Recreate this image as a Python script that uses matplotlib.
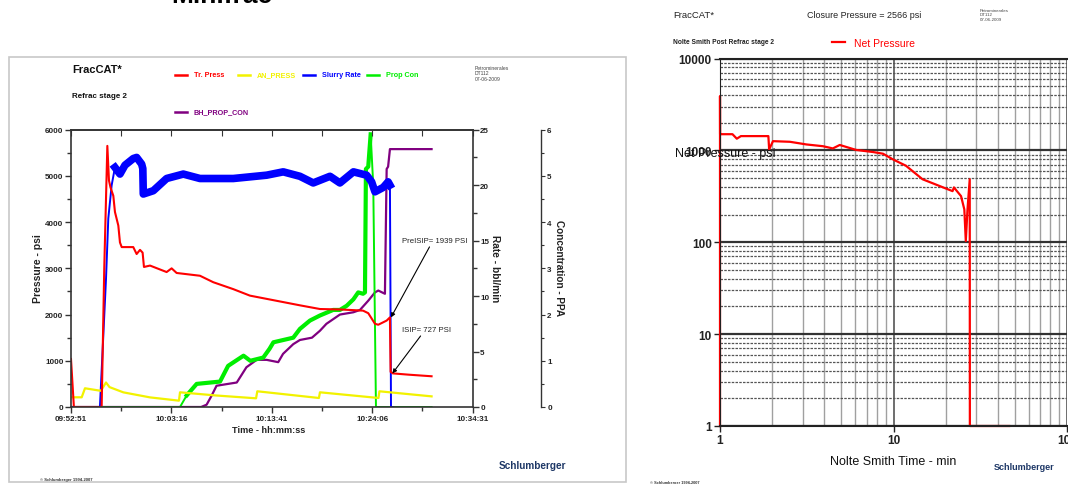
import matplotlib
matplotlib.use("Agg")
import matplotlib.pyplot as plt
from matplotlib.ticker import FixedLocator, NullFormatter, LogLocator, FuncFormatter
from matplotlib.patches import Rectangle

W, H = 1068, 485
plt.rcParams['font.family'] = ['Liberation Sans', 'DejaVu Sans']

# ---------------- treatment plot data (minutes after 09:52:51) ----------------
time_labels = ["09:52:51", "10:03:16", "10:13:41", "10:24:06", "10:34:31"]
time_ticks = [0.0, 10.4167, 20.8333, 31.25, 41.6667]

pre_isip = 1939
isip = 727

tr_t = [0.0, 0.30, 3.18, 3.45, 3.77, 3.94, 4.10, 4.39, 4.56, 4.91, 5.08, 5.26, 6.46,
        6.81, 7.16, 7.43, 7.57, 8.20, 9.92, 10.44, 10.96, 13.38, 14.76, 16.84, 18.56,
        20.29, 22.02, 23.75, 25.83, 28.0, 30.3, 30.84, 31.54, 31.88, 32.75, 33.09,
        33.16, 33.4, 35.0, 37.41]
tr_p = [1040, 0, 0, 3000, 5650, 4900, 4750, 4570, 4220, 3925, 3560, 3460, 3460,
        3310, 3400, 3340, 3030, 3060, 2920, 3000, 2900, 2840, 2700, 2550, 2410,
        2340, 2270, 2200, 2120, 2110, 2085, 2030, 1800, 1780, 1870, pre_isip,
        760, isip, 700, 665]

an_t = [0.0, 1.11, 1.45, 3.10, 3.63, 4.0, 5.43, 8.2, 11.2, 11.31, 15.0, 19.2, 19.33,
        25.72, 25.83, 31.9, 32.0, 37.41]
an_p = [210, 210, 405, 350, 530, 430, 317, 208, 137, 318, 250, 188, 340,
        195, 318, 195, 340, 230]

sr_t = [0.0, 3.0, 3.63, 3.87, 4.22, 4.56, 5.08, 5.6, 6.46, 6.81, 7.33, 7.45, 7.5,
        8.54, 9.92, 11.65, 13.38, 16.84, 20.3, 22.02, 23.75, 25.13, 26.87, 27.9,
        29.3, 30.67, 31.19, 31.54, 32.4, 32.9, 33.09, 33.2, 33.4]
sr_r = [0, 0, 11.5, 17, 20, 21.6, 21.0, 21.8, 22.4, 22.5, 21.9, 21.5, 19.2,
        19.5, 20.6, 21.0, 20.6, 20.6, 20.9, 21.2, 20.8, 20.2, 20.8, 20.2,
        21.2, 20.9, 20.3, 19.4, 19.8, 20.3, 20.0, 0, 0]

pc_t = [0.0, 11.31, 12.0, 13.04, 15.46, 16.3, 17.9, 18.6, 19.95, 20.6, 21.0, 23.06,
        23.75, 24.79, 25.83, 27.2, 27.9, 28.6, 29.3, 29.8, 30.3, 30.5, 30.6, 30.84,
        31.09, 31.36, 31.64, 37.41]
pc_c = [0, 0, 0.25, 0.5, 0.55, 0.89, 1.11, 1.0, 1.07, 1.26, 1.40, 1.5,
        1.69, 1.87, 1.98, 2.1, 2.1, 2.19, 2.33, 2.48, 2.45, 2.48, 5.15, 5.2,
        5.9, 4.8, 0, 0]

bh_t = [0.0, 13.5, 14.07, 14.6, 15.1, 17.2, 18.2, 19.26, 20.3, 21.5, 22.0, 23.06,
        23.75, 25.0, 25.83, 26.5, 27.9, 29.3, 29.98, 30.84, 31.54, 31.88, 32.57,
        32.75, 32.9, 33.09, 37.41]
bh_c = [0, 0, 0.05, 0.25, 0.46, 0.53, 0.86, 1.02, 1.02, 0.97, 1.15, 1.36,
        1.45, 1.5, 1.65, 1.8, 2.0, 2.05, 2.1, 2.3, 2.48, 2.52, 2.45,
        5.15, 5.2, 5.58, 5.58]

# ---------------- Nolte-Smith data ----------------
closure_pressure = 2566
ns_t = [1.0, 1.0, 1.001, 1.18, 1.25, 1.32, 1.42, 1.90, 1.92, 2.02, 2.53, 3.15, 3.92,
        4.47, 4.90, 6.1, 7.6, 8.7, 9.9, 11.8, 14.7, 18.4, 21.9, 22.3, 24.5, 25.6,
        26.1, 26.7, 27.5, 27.55, 46.4]
ns_p = [1, 3900, 1500, 1500, 1340, 1430, 1430, 1430, 1024, 1260, 1240, 1160, 1110,
        1050, 1145, 1010, 960, 920, 800, 680, 485, 410, 360, 395, 318, 228,
        103, 228, 485, 1, 1]

RED, YEL, BLU, GRN, PUR = '#ff0000', '#f2f200', '#0000ff', '#00ee00', '#800080'
INK = '#222222'


def rect(x0, y0, x1, y1):
    return [x0 / W, 1 - y1 / H, (x1 - x0) / W, (y1 - y0) / H]


fig = plt.figure(figsize=(W / 100, H / 100), dpi=100)
fig.patch.set_facecolor('white')

# ---------------- left: treatment plot ----------------
ax_conc = fig.add_axes(rect(71, 130.7, 472.6, 408), zorder=1)
ax_rate = fig.add_axes(rect(71, 130.7, 472.6, 408), zorder=2, sharex=ax_conc)
ax = fig.add_axes(rect(71, 130.7, 472.6, 408), zorder=3, sharex=ax_conc)
for a in (ax_rate, ax):
    a.patch.set_visible(False)

ax.set_xlim(0, time_ticks[-1])
ax.set_ylim(0, 6000)
ax_rate.set_ylim(0, 25)
ax_conc.set_ylim(0, 6)

ax_conc.plot(bh_t, bh_c, color=PUR, lw=1.6)
ax_conc.plot(pc_t, pc_c, color=GRN, lw=1.4)
ax_conc.plot(pc_t[2:25], pc_c[2:25], color=GRN, lw=3.0)
ax_rate.plot(sr_t, sr_r, color=BLU, lw=1.4)
ax_rate.plot(sr_t[5:-2], sr_r[5:-2], color=BLU, lw=5.5)
ax.plot(an_t, an_p, color=YEL, lw=1.6)
ax.plot(tr_t, tr_p, color=RED, lw=1.5)

SP = '#333333'
TICK_FS = 5.8
# pressure axis (left) and time axis
for s in ('top', 'bottom', 'left', 'right'):
    ax.spines[s].set_color(SP)
    ax.spines[s].set_linewidth(1.2)
ax.spines['right'].set_visible(False)
ax.xaxis.set_major_locator(FixedLocator(time_ticks))
mid_ticks = [(a + b) / 2 for a, b in zip(time_ticks[:-1], time_ticks[1:])]
ax.xaxis.set_minor_locator(FixedLocator(mid_ticks))
ax.set_xticklabels(time_labels)
ax.yaxis.set_major_locator(FixedLocator(range(0, 6001, 1000)))
ax.yaxis.set_minor_locator(FixedLocator(range(500, 6000, 1000)))
ax.tick_params(axis='both', which='both', direction='out', colors=SP, labelsize=TICK_FS, width=1)
ax.tick_params(axis='both', which='major', length=4, pad=1.5)
ax.tick_params(axis='both', which='minor', length=3)
for lab in ax.get_xticklabels() + ax.get_yticklabels():
    lab.set_fontweight('bold')
    lab.set_color(INK)
top = ax.secondary_xaxis('top')
top.set_xticks(time_ticks + mid_ticks)
top.tick_params(direction='in', length=4, labeltop=False, colors=SP)
top.spines['top'].set_color(SP)
top.spines['top'].set_linewidth(1.2)

# rate axis
for s in ('top', 'bottom', 'left'):
    ax_rate.spines[s].set_visible(False)
ax_rate.spines['right'].set_color(SP)
ax_rate.spines['right'].set_linewidth(1.2)
ax_rate.yaxis.tick_right()
ax_rate.yaxis.set_major_locator(FixedLocator(range(0, 26, 5)))
ax_rate.yaxis.set_minor_locator(FixedLocator([2.5, 7.5, 12.5, 17.5, 22.5]))
ax_rate.tick_params(axis='y', which='both', direction='out', colors=SP, labelsize=TICK_FS, width=1)
ax_rate.tick_params(axis='y', which='major', length=4, pad=1.5)
ax_rate.tick_params(axis='y', which='minor', length=3)
ax_rate.tick_params(axis='x', which='both', bottom=False, labelbottom=False)
for lab in ax_rate.get_yticklabels():
    lab.set_fontweight('bold')
    lab.set_color(INK)

# concentration axis
for s in ('top', 'bottom', 'left'):
    ax_conc.spines[s].set_visible(False)
ax_conc.spines['right'].set_position(('axes', (541 - 71) / (472.6 - 71)))
ax_conc.spines['right'].set_color(SP)
ax_conc.spines['right'].set_linewidth(1.0)
ax_conc.yaxis.tick_right()
ax_conc.yaxis.set_major_locator(FixedLocator(range(0, 7)))
ax_conc.yaxis.set_minor_locator(FixedLocator([0.5, 1.5, 2.5, 3.5, 4.5, 5.5]))
ax_conc.tick_params(axis='y', which='both', direction='out', colors=SP, labelsize=TICK_FS, width=0.8)
ax_conc.tick_params(axis='y', which='major', length=3, pad=1.5)
ax_conc.tick_params(axis='y', which='minor', length=2)
ax_conc.tick_params(axis='x', which='both', bottom=False, labelbottom=False)
for lab in ax_conc.get_yticklabels():
    lab.set_fontweight('bold')
    lab.set_color(INK)

ax.annotate(f"PreISIP= {pre_isip} PSI", xy=(33.2, pre_isip), xytext=(34.3, 3600),
            fontsize=5.6, color=INK, va='center', ha='left',
            arrowprops=dict(arrowstyle='-|>', color='black', lw=0.8, mutation_scale=6,
                            shrinkA=0, shrinkB=0, relpos=(0.45, 0.0)))
ax.annotate(f"ISIP= {isip} PSI", xy=(33.35, isip), xytext=(34.3, 1673),
            fontsize=5.6, color=INK, va='center', ha='left',
            arrowprops=dict(arrowstyle='-|>', color='black', lw=0.8, mutation_scale=6,
                            shrinkA=0, shrinkB=0, relpos=(0.43, 0.0)))

# ---------------- right: Nolte-Smith plot ----------------
ax2 = fig.add_axes(rect(720, 59.5, 1067, 427), zorder=1)
ax2.patch.set_visible(False)
ax2.set_xscale('log')
ax2.set_yscale('log')
ax2.set_xlim(1, 100)
ax2.set_ylim(1, 10000)
ax2.xaxis.set_minor_locator(LogLocator(base=10, subs=range(2, 10)))
ax2.yaxis.set_minor_locator(LogLocator(base=10, subs=range(2, 10)))
ax2.xaxis.set_minor_formatter(NullFormatter())
ax2.yaxis.set_minor_formatter(NullFormatter())
ax2.xaxis.set_major_locator(FixedLocator([1, 10, 100]))
ax2.yaxis.set_major_locator(FixedLocator([1, 10, 100, 1000, 10000]))
ax2.xaxis.set_major_formatter(FuncFormatter(lambda v, p: f"{v:g}"))
ax2.yaxis.set_major_formatter(FuncFormatter(lambda v, p: f"{v:g}"))
ax2.grid(which='minor', axis='x', color='#a0a0a0', lw=1.0)
ax2.grid(which='major', axis='x', color='#555555', lw=1.2)
ax2.grid(which='minor', axis='y', color='#555555', lw=0.9, ls=(0, (2, 1)))
ax2.grid(which='major', axis='y', color='#333333', lw=1.6)
ax2.set_axisbelow(True)
for s in ('top', 'bottom'):
    ax2.spines[s].set_color(INK)
    ax2.spines[s].set_linewidth(1.5)
ax2.spines['right'].set_visible(False)
ax2.spines['left'].set_color(INK)
ax2.tick_params(which='minor', length=0)
ax2.tick_params(which='major', length=4, width=1, colors=INK, labelsize=8.5, pad=2)
for lab in ax2.get_xticklabels() + ax2.get_yticklabels():
    lab.set_fontweight('bold')
ax2.plot(ns_t, ns_p, color=RED, lw=1.6, clip_on=False)

# ---------------- page furniture (pixel coordinates) ----------------
page = fig.add_axes([0, 0, 1, 1], zorder=10)
page.set_xlim(0, W)
page.set_ylim(H, 0)
page.axis('off')
page.patch.set_visible(False)

page.add_patch(Rectangle((9, 57.5), 616.5, 425.5, fill=False, ec='#c8c8c8', lw=1.2))
page.text(222, 3, "Minifrac", fontsize=19, fontweight='bold', ha='center', va='baseline', color='black')

page.text(72, 70, "FracCAT*", fontsize=8, fontweight='bold', va='center', color='#111111')
page.text(72, 96, "Refrac stage 2", fontsize=5.8, fontweight='bold', va='center', color='#111111')

legend_items = [(175, 75.5, RED, "Tr. Press"), (238, 75.5, YEL, "AN_PRESS"),
                (303, 75.5, BLU, "Slurry Rate"), (367, 75.5, GRN, "Prop Con"),
                (175, 112.5, PUR, "BH_PROP_CON")]
for x0, y0, c, name in legend_items:
    page.plot([x0, x0 + 12], [y0, y0], color=c, lw=1.8)
    page.text(x0 + 19, y0, name, color=c, fontsize=5.2, fontweight='bold', va='center')

page.text(475, 66, "Petrominerales\nDT112\n07-06-2009", fontsize=3.6, color='#444444', va='top', linespacing=1.1)

page.text(38, 269, "Pressure - psi", rotation=90, fontsize=7.5, fontweight='bold', ha='center', va='center', color=INK)
page.text(269, 431, "Time - hh:mm:ss", fontsize=6.6, fontweight='bold', ha='center', va='center', color=INK)
page.text(495, 269, "Rate - bbl/min", rotation=270, fontsize=7.3, fontweight='bold', ha='center', va='center', color=INK)
page.text(559, 268, "Concentration - PPA", rotation=270, fontsize=7.2, fontweight='bold', ha='center', va='center', color=INK)

page.text(532, 466, "Schlumberger", fontsize=7.2, fontweight='bold', color='#1d3766', ha='center', va='center')
page.text(40, 480.5, "\u00a9 Schlumberger 1994-2007", fontsize=3.0, fontweight='bold', color='#333333', va='center')

page.text(673, 15, "FracCAT*", fontsize=6.8, va='center', color=INK)
page.text(864, 15, f"Closure Pressure = {closure_pressure} psi", fontsize=6.5, ha='center', va='center', color=INK)
page.text(980, 9, "Petrominerales\nDT112\n07-06-2009", fontsize=3.2, color='#444444', va='top', linespacing=1.1)
page.text(673, 43, "Nolte Smith Post Refrac stage 2", fontsize=4.8, fontweight='bold', va='center', color=INK)
page.plot([832, 845], [43, 43], color=RED, lw=1.6)
page.text(854, 44, "Net Pressure", fontsize=7.5, color=RED, va='center')
page.text(675, 154, "Net Pressure - psi", fontsize=9, va='center', color='#111111')
page.text(893, 462, "Nolte Smith Time - min", fontsize=9, ha='center', va='center', color='#111111')
page.text(1024, 468, "Schlumberger", fontsize=6.5, fontweight='bold', color='#1d3766', ha='center', va='center')
page.text(650, 483, "\u00a9 Schlumberger 1994-2007", fontsize=2.8, fontweight='bold', color='#333333', va='center')

fig.savefig("out.png", dpi=100, facecolor='white')
